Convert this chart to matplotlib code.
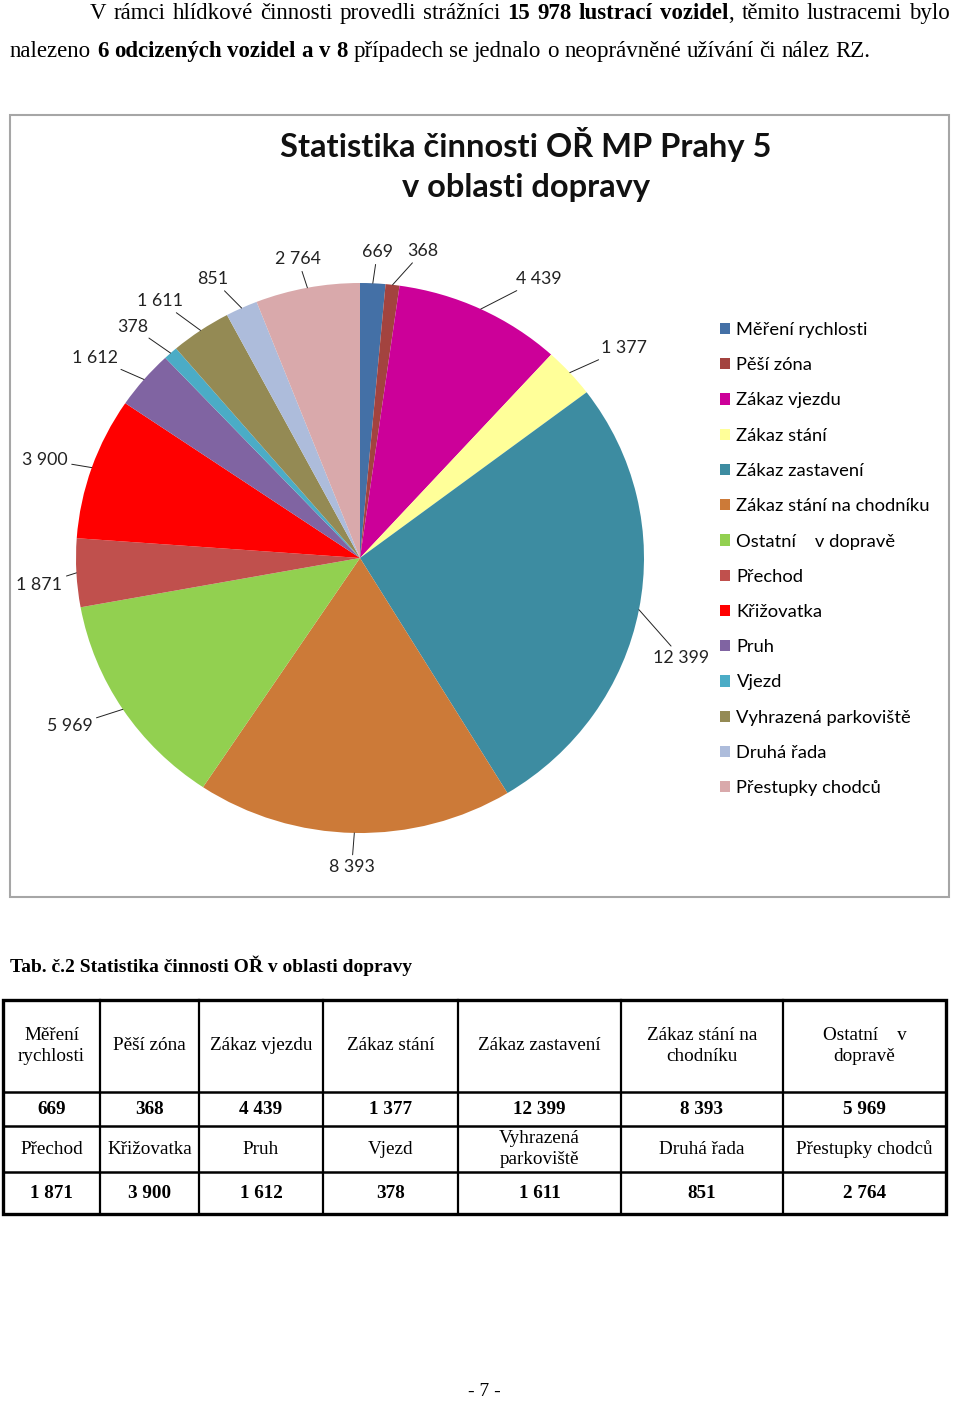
import matplotlib
matplotlib.use('Agg')
import matplotlib.pyplot as plt
from matplotlib.patches import Rectangle
import numpy as np

# data
categories = ['Měření rychlosti', 'Pěší zóna', 'Zákaz vjezdu', 'Zákaz stání',
              'Zákaz zastavení', 'Zákaz stání na chodníku', 'Ostatní    v dopravě',
              'Přechod', 'Křižovatka', 'Pruh', 'Vjezd', 'Vyhrazená parkoviště',
              'Druhá řada', 'Přestupky chodců']
values = [669, 368, 4439, 1377, 12399, 8393, 5969, 1871, 3900, 1612, 378, 1611, 851, 2764]
colors = ['#4470A6', '#A3433F', '#CC0099', '#FFFF99', '#3D8CA1', '#CC7A38', '#92D050',
          '#C0504D', '#FF0000', '#8064A2', '#4BACC6', '#948A54', '#ADBCDB', '#D9A9AB']

table_head_top = ['Měření\nrychlosti', 'Pěší zóna', 'Zákaz vjezdu', 'Zákaz stání',
                  'Zákaz zastavení', 'Zákaz stání na\nchodníku', 'Ostatní    v\ndopravě']
table_head_bottom = ['Přechod', 'Křižovatka', 'Pruh', 'Vjezd', 'Vyhrazená\nparkoviště',
                     'Druhá řada', 'Přestupky chodců']

line1 = [('V rámci hlídkové činnosti provedli strážníci', 'normal'),
         ('15 978 lustrací vozidel', 'bold'),
         (', těmito lustracemi bylo', 'normal')]
line2 = [('nalezeno', 'normal'), ('6 odcizených vozidel a v 8', 'bold'),
         ('případech se jednalo o neoprávněné užívání či nález RZ.', 'normal')]

# label tweaks in pixels (dx, dy)
label_shift = [(3, 2), (11, -1), (21, 0), (6, -2), (-19, 42), (-2, 1), (-2, -1),
               (20, 10), (8, 3), (0, 0), (0, -2), (2, -2), (1, 1), (-3, 4)]


def fmt(v):
    return f'{v:,}'.replace(',', ' ')


W, H = 960, 1401
fig = plt.figure(figsize=(W / 100, H / 100), dpi=100)
page = fig.add_axes([0, 0, 1, 1])
page.set_xlim(0, W)
page.set_ylim(H, 0)
page.axis('off')
renderer = fig.canvas.get_renderer()
SERIF = 'Liberation Serif'


def text_line(runs, x0, y, size, width=None):
    words = []
    for txt, weight in runs:
        for word in txt.split():
            words.append((word, weight))
    items = []
    for word, weight in words:
        t = page.text(x0, y, word, fontsize=size, fontweight=weight, family=SERIF,
                      va='baseline')
        items.append((t, t.get_window_extent(renderer).width))
    total = sum(w for _, w in items)
    space = size * 100 / 72 * 0.25
    n_gaps = len([w for w, _ in words[1:] if not w.startswith(',')])
    gap = (width - total) / n_gaps if width else space
    x = x0
    for (t, w), (word, _) in zip(items, words):
        if word.startswith(','):
            x -= gap
        t.set_x(x)
        x += w + gap


text_line(line1, 90, 19, 16.5, width=860)
text_line(line2, 10, 57, 16.5)

# chart frame
page.add_patch(Rectangle((10, 115), 939, 782, fill=False, ec='#A6A6A6', lw=1.5))
page.text(526, 145, 'Statistika činnosti OŘ MP Prahy 5', family='Lato', fontweight='bold',
          fontsize=23.5, ha='center', va='center', color='#111111')
page.text(526, 187, 'v oblasti dopravy', family='Lato', fontweight='bold',
          fontsize=23.5, ha='center', va='center', color='#111111')

# pie
cx, cy, rx, ry = 360, 558, 284, 275
ax = fig.add_axes([(cx - rx) / W, (H - cy - ry) / H, 2 * rx / W, 2 * ry / H])
wedges, _ = ax.pie(values, colors=colors, startangle=90, counterclock=False,
                   wedgeprops=dict(linewidth=0))
ax.set_aspect('auto')
ax.set_xlim(-1, 1)
ax.set_ylim(-1, 1)
ax.axis('off')

total = sum(values)
cum = np.cumsum([0] + values[:-1])
for v, c0, (dx, dy) in zip(values, cum, label_shift):
    theta = 2 * np.pi * (c0 + v / 2) / total
    sx, sy = np.sin(theta), np.cos(theta)
    if abs(sx) < 0.2:
        ha = 'center'
    else:
        ha = 'left' if sx > 0 else 'right'
    if dx > 9 and sy > 0.9:
        ha = 'left'
    off = (0.12 * sx * rx + dx, 0.12 * sy * ry - dy)
    ax.annotate(fmt(v), xy=(sx, sy), xytext=off, textcoords='offset pixels',
                ha=ha, va='center', family='Lato', fontsize=12.8, color='#222222',
                arrowprops=dict(arrowstyle='-', lw=0.7, color='#222222',
                                shrinkA=1, shrinkB=0))

ax.legend(wedges, categories, loc='upper left', bbox_to_anchor=(720 / W, 1 - 322 / H),
          bbox_transform=fig.transFigure, frameon=False,
          prop=dict(family='Lato', size=13.2), handlelength=0.55, handleheight=0.55,
          handletextpad=0.35, labelspacing=1.05, borderpad=0, borderaxespad=0)

# caption + table
page.text(10, 966, 'Tab. č.2 Statistika činnosti OŘ v oblasti dopravy', family=SERIF,
          fontweight='bold', fontsize=14, va='center')

col_edges = [3, 100, 199, 323, 458, 621, 783, 946]
row_edges = [1000, 1092, 1126, 1172, 1214]
for x in col_edges[1:-1]:
    page.plot([x, x], [row_edges[0], row_edges[-1]], color='black', lw=1.6)
for y in row_edges[1:-1]:
    page.plot([col_edges[0], col_edges[-1]], [y, y], color='black', lw=1.8)
page.add_patch(Rectangle((col_edges[0], row_edges[0]), col_edges[-1] - col_edges[0],
                         row_edges[-1] - row_edges[0], fill=False, ec='black', lw=2.4))

rows = [(table_head_top, 'normal'), ([fmt(v) for v in values[:7]], 'bold'),
        (table_head_bottom, 'normal'), ([fmt(v) for v in values[7:]], 'bold')]
for r, (cells, weight) in enumerate(rows):
    yc = (row_edges[r] + row_edges[r + 1]) / 2
    for c, txt in enumerate(cells):
        xc = (col_edges[c] + col_edges[c + 1]) / 2
        page.text(xc, yc, txt, family=SERIF, fontweight=weight, fontsize=13.8,
                  ha='center', va='center', linespacing=1.25)

page.text(484, 1392, '- 7 -', family=SERIF, fontsize=14, ha='center', va='center')

fig.savefig('out.png', dpi=100)
